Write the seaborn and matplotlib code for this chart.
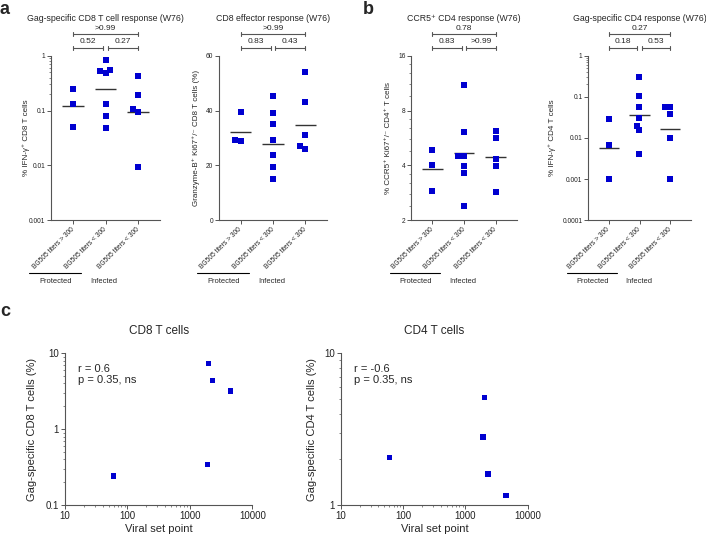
import numpy as np
import pandas as pd
import matplotlib
matplotlib.use("Agg")
import matplotlib.pyplot as plt
import matplotlib.ticker as mticker
import seaborn as sns

# x categories of the top panels (keys must be unique, labels repeat)
group_keys = ["prot", "inf_a", "inf_b"]
group_labels = ["BG505 titers > 300", "BG505 titers < 300", "BG505 titers < 300"]

# a - Gag-specific CD8 (% IFN-g+)
cd8_ifng_prot = [0.25, 0.134, 0.050]
cd8_ifng_inf_a = [0.85, 0.52, 0.48, 0.55, 0.134, 0.079, 0.048]
cd8_ifng_inf_b = [0.43, 0.19, 0.106, 0.095, 0.0092]

# a - CD8 effector (% granzyme-B+)
cd8_gzmb_prot = [39.6, 28.9, 29.2]
cd8_gzmb_inf_a = [45.3, 39.1, 35.0, 29.4, 23.9, 19.3, 14.9]
cd8_gzmb_inf_b = [53.9, 43.0, 31.0, 26.1, 27.1]

# b - CCR5+ CD4
cd4_ccr5_prot = [4.85, 4.02, 2.91]
cd4_ccr5_inf_a = [11.1, 6.09, 4.5, 4.5, 3.95, 3.62, 2.41]
cd4_ccr5_inf_b = [6.2, 5.67, 4.33, 3.95, 2.87]

# b - Gag-specific CD4 (% IFN-g+)
cd4_ifng_prot = [0.029, 0.0069, 0.001]
cd4_ifng_inf_a = [0.30, 0.103, 0.058, 0.031, 0.020, 0.0153, 0.0040]
cd4_ifng_inf_b = [0.056, 0.056, 0.039, 0.010, 0.001]

# p values: prot vs inf_b (top row), prot vs inf_a, inf_a vs inf_b
p_top = [">0.99", ">0.99", "0.78", "0.27"]
p_left = ["0.52", "0.83", "0.83", "0.18"]
p_right = ["0.27", "0.43", ">0.99", "0.53"]

# c - correlation with viral set point
viral_set_point = [60, 1900, 2000, 2300, 4450]
gag_cd8_pct = [0.24, 0.34, 7.3, 4.4, 3.2]
gag_cd4_pct = [2.05, 2.8, 5.1, 1.6, 1.16]
corr_text = ["r = 0.6\np = 0.35, ns", "r = -0.6\np = 0.35, ns"]

BLUE = "#0000d0"
AXC = "#555555"

sns.set_style("ticks")
plt.rcParams["font.family"] = ["Liberation Sans", "DejaVu Sans"]
plt.rcParams["axes.edgecolor"] = AXC
plt.rcParams["axes.linewidth"] = 0.8
plt.rcParams["xtick.color"] = AXC
plt.rcParams["ytick.color"] = AXC
plt.rcParams["xtick.labelcolor"] = "#222222"
plt.rcParams["ytick.labelcolor"] = "#222222"

fig = plt.figure(figsize=(7.06, 5.38), dpi=100)
W, H = 706.0, 538.0


def px_axes(left, right, top, bottom):
    return fig.add_axes([left / W, 1 - bottom / H, (right - left) / W, (bottom - top) / H])


def fmt(v, _):
    return f"{v:g}"


def bracket(ax, x0, x1, y, text, ty):
    tr = ax.get_xaxis_transform()
    ax.plot([x0, x1], [y, y], color=AXC, lw=0.8, transform=tr, clip_on=False)
    for xx in (x0, x1):
        ax.plot([xx, xx], [y - 0.012, y + 0.012], color=AXC, lw=0.8, transform=tr, clip_on=False)
    ax.text((x0 + x1) / 2, ty, text, transform=tr, ha="center", va="center", fontsize=6)


def response_panel(ax, values, title, ylabel, log_base, ylim, yticks, ptop, pleft, pright,
                   ylab_x=-0.2, minor=None):
    df = pd.DataFrame({
        "group": np.repeat(group_keys, [len(v) for v in values]),
        "value": np.concatenate(values),
    })
    sns.swarmplot(data=df, x="group", y="value", order=group_keys, marker="s", size=3.8,
                  color=BLUE, linewidth=0, log_scale=log_base, ax=ax)
    # geometric mean line per group
    for i, v in enumerate(values):
        gm = np.exp(np.mean(np.log(v)))
        ax.hlines(gm, i - 0.33, i + 0.33, color="#333333", lw=1.0)

    ax.set_xlim(-0.68, 2.68)
    ax.set_ylim(*ylim)
    ax.yaxis.set_major_locator(mticker.FixedLocator(yticks))
    ax.yaxis.set_major_formatter(mticker.FuncFormatter(fmt))
    if minor is not None:
        ax.yaxis.set_minor_locator(minor)
    ax.yaxis.set_minor_formatter(mticker.NullFormatter())
    ax.set_xticks(range(3))
    ax.set_xticklabels(group_labels, rotation=45, ha="right", va="center",
                       rotation_mode="anchor", fontsize=4.8)
    ax.tick_params(axis="x", length=3, width=0.7, pad=3)
    ax.tick_params(axis="y", which="major", length=3, width=0.7, labelsize=4.8, pad=1)
    ax.tick_params(axis="y", which="minor", length=1.5, width=0.5)
    ax.set_xlabel("")
    ax.set_ylabel(ylabel, fontsize=5.8)
    ax.yaxis.set_label_coords(ylab_x, 0.5)
    sns.despine(ax=ax)

    ax.text(0.5, 1.229, title, transform=ax.transAxes, ha="center", va="center", fontsize=6.3)
    bracket(ax, 0, 2, 1.134, ptop, 1.165)
    bracket(ax, 0, 0.93, 1.049, pleft, 1.085)
    bracket(ax, 1.07, 2, 1.049, pright, 1.085)

    tr = ax.get_xaxis_transform()
    ax.plot([-1.35, 0.25], [-0.322, -0.322], color="black", lw=0.8, transform=tr, clip_on=False)
    ax.text(-0.53, -0.37, "Protected", transform=tr, ha="center", va="center", fontsize=5.4)
    ax.text(0.96, -0.37, "Infected", transform=tr, ha="center", va="center", fontsize=5.4)


log10_minor = mticker.LogLocator(base=10, subs=np.arange(2, 10))

ax1 = px_axes(51, 160, 55.7, 220.3)
response_panel(ax1, [cd8_ifng_prot, cd8_ifng_inf_a, cd8_ifng_inf_b],
               "Gag-specific CD8 T cell response (W76)", "% IFN-\u03b3\u207a CD8 T cells",
               True, (0.001, 1), [0.001, 0.01, 0.1, 1], p_top[0], p_left[0], p_right[0],
               ylab_x=-0.19, minor=log10_minor)

ax2 = px_axes(219, 327, 55.7, 220.3)
response_panel(ax2, [cd8_gzmb_prot, cd8_gzmb_inf_a, cd8_gzmb_inf_b],
               "CD8 effector response (W76)",
               "Granzyme-B\u207a Ki67\u207a/\u207b CD8 T cells (%)",
               None, (0, 60), [0, 20, 40, 60], p_top[1], p_left[1], p_right[1],
               ylab_x=-0.18)

ax3 = px_axes(411, 517, 55.7, 220.3)
response_panel(ax3, [cd4_ccr5_prot, cd4_ccr5_inf_a, cd4_ccr5_inf_b],
               "CCR5\u207a CD4 response (W76)", "% CCR5\u207a Ki67\u207a/\u207b CD4\u207a T cells",
               2, (2, 16), [2, 4, 8, 16], p_top[2], p_left[2], p_right[2],
               ylab_x=-0.18, minor=mticker.LogLocator(base=2, subs=[1.2, 1.4, 1.6, 1.8]))

ax4 = px_axes(588, 691, 55.7, 220.3)
response_panel(ax4, [cd4_ifng_prot, cd4_ifng_inf_a, cd4_ifng_inf_b],
               "Gag-specific CD4 response (W76)", "% IFN-\u03b3\u207a CD4 T cells",
               True, (0.0001, 1), [0.0001, 0.001, 0.01, 0.1, 1], p_top[3], p_left[3], p_right[3],
               ylab_x=-0.31, minor=log10_minor)


def corr_panel(ax, yvals, title, ylabel, ylim, yticks, text, ylab_x):
    sns.scatterplot(x=viral_set_point, y=yvals, marker="s", s=15, color=BLUE,
                    edgecolor="none", ax=ax)
    ax.set_xscale("log")
    ax.set_yscale("log")
    ax.set_xlim(10, 10000)
    ax.set_ylim(*ylim)
    ax.xaxis.set_major_locator(mticker.FixedLocator([10, 100, 1000, 10000]))
    ax.xaxis.set_major_formatter(mticker.FuncFormatter(fmt))
    ax.xaxis.set_minor_locator(log10_minor)
    ax.xaxis.set_minor_formatter(mticker.NullFormatter())
    ax.yaxis.set_major_locator(mticker.FixedLocator(yticks))
    ax.yaxis.set_major_formatter(mticker.FuncFormatter(fmt))
    ax.yaxis.set_minor_locator(log10_minor)
    ax.yaxis.set_minor_formatter(mticker.NullFormatter())
    ax.tick_params(which="major", length=3, width=0.7, labelsize=7, pad=1.5)
    ax.tick_params(which="minor", length=1.5, width=0.5)
    ax.set_xlabel("Viral set point", fontsize=8)
    ax.xaxis.set_label_coords(0.5, -0.125)
    ax.set_ylabel(ylabel, fontsize=8)
    ax.yaxis.set_label_coords(ylab_x, 0.5)
    ax.set_title(title, fontsize=8.5, pad=14)
    ax.text(0.067, 0.93, text, transform=ax.transAxes, ha="left", va="top",
            fontsize=8, linespacing=1.15)
    sns.despine(ax=ax)


ax5 = px_axes(65, 252.3, 353.3, 505)
corr_panel(ax5, gag_cd8_pct, "CD8 T cells", "Gag-specific CD8 T cells (%)",
           (0.1, 10), [0.1, 1, 10], corr_text[0], -0.148)

ax6 = px_axes(341, 527.7, 353.3, 505)
corr_panel(ax6, gag_cd4_pct, "CD4 T cells", "Gag-specific CD4 T cells (%)",
           (1, 10), [1, 10], corr_text[1], -0.13)

for lab, x, y in [("a", 5, 10), ("b", 368, 10), ("c", 5, 312)]:
    fig.text(x / W, 1 - y / H, lab, fontsize=13, fontweight="bold", ha="center", va="center")

fig.savefig("out.png", dpi=100)
